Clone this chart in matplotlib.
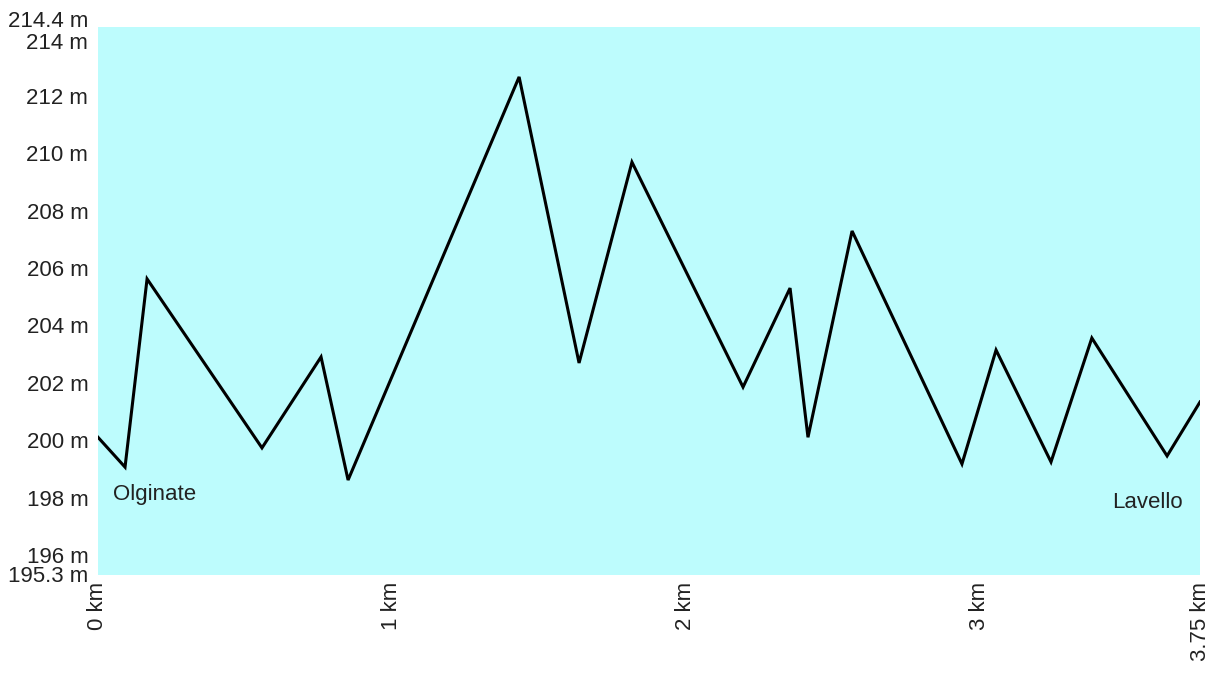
import matplotlib
matplotlib.use("Agg")
import matplotlib.pyplot as plt
from matplotlib.transforms import ScaledTranslation

plt.rcParams['font.family'] = ['Liberation Sans', 'DejaVu Sans']

# Distance (km) and elevation (m)
distance_km = [0.0, 0.092, 0.167, 0.558, 0.759, 0.851, 1.433, 1.637, 1.817,
               2.195, 2.355, 2.416, 2.566, 2.940, 3.056, 3.243, 3.382, 3.638, 3.75]
elevation_m = [200.1, 199.06, 205.62, 199.73, 202.9, 198.61, 212.66, 202.69, 209.69,
               201.85, 205.3, 200.1, 207.29, 199.17, 203.14, 199.24, 203.56, 199.45, 201.33]

y_ticks = [195.3, 196, 198, 200, 202, 204, 206, 208, 210, 212, 214, 214.4]
y_tick_labels = ["195.3 m", "196 m", "198 m", "200 m", "202 m", "204 m", "206 m",
                 "208 m", "210 m", "212 m", "214 m", "214.4 m"]
x_ticks = [0, 1, 2, 3, 3.75]
x_tick_labels = ["0 km", "1 km", "2 km", "3 km", "3.75 km"]
start_label = "Olginate"
end_label = "Lavello"

FS = 16
TXT = '#222222'

fig = plt.figure(figsize=(12.14, 6.73), dpi=100)
ax = fig.add_axes([98/1214, (673-575)/673, (1200-98)/1214, (575-27)/673])
ax.set_facecolor('#bdfcfd')
ax.plot(distance_km, elevation_m, color='black', linewidth=2.2, solid_joinstyle='miter')
ax.set_xlim(0, 3.75)
ax.set_ylim(195.3, 214.4)
for s in ax.spines.values():
    s.set_visible(False)
ax.set_yticks(y_ticks)
ax.set_yticklabels(y_tick_labels, fontsize=FS, color=TXT)
ax.set_xticks(x_ticks)
ax.set_xticklabels(x_tick_labels, rotation=90, fontsize=FS, color=TXT)
ax.tick_params(axis='x', length=0, pad=5)
ax.tick_params(axis='y', length=0, pad=7)

# nudge the crowded end labels apart, as in the reference
ylabels = ax.get_yticklabels()
ylabels[-1].set_transform(ylabels[-1].get_transform() + ScaledTranslation(0, 6/72, fig.dpi_scale_trans))
ylabels[-2].set_transform(ylabels[-2].get_transform() + ScaledTranslation(0, -1.5/72, fig.dpi_scale_trans))
ylabels[0].set_transform(ylabels[0].get_transform() + ScaledTranslation(0, 1/72, fig.dpi_scale_trans))

ax.text(0.05, 198.1, start_label, fontsize=FS, color=TXT, va='center', ha='left')
ax.text(3.69, 197.81, end_label, fontsize=FS, color=TXT, va='center', ha='right')

fig.savefig("out.png", dpi=100)
